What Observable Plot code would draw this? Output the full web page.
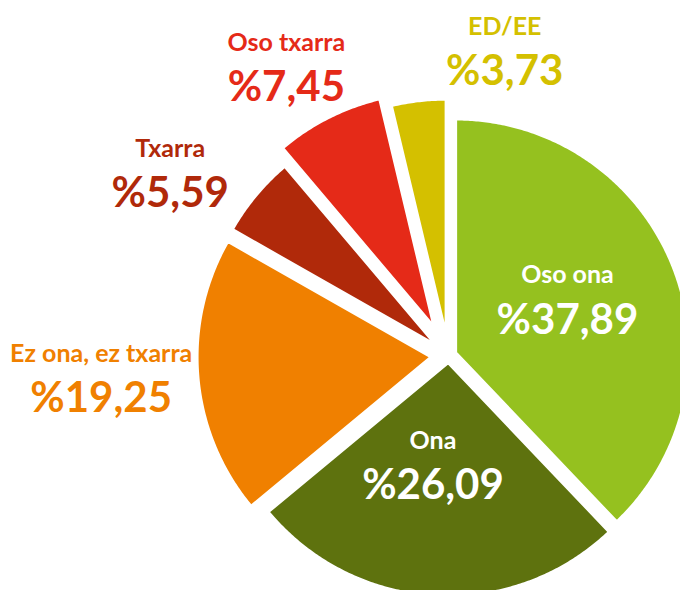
<!DOCTYPE html>
<html><head><meta charset="utf-8">
<script src="https://cdn.jsdelivr.net/npm/d3@7"></script>
<script src="https://cdn.jsdelivr.net/npm/@observablehq/plot@0.6"></script>
<style>html,body{margin:0;padding:0;background:#fff;overflow:hidden} #chart{width:680px;height:590px}</style>
</head><body><div id="chart"></div>
<script>
// ---- data ----
const categories = ["Oso ona", "Ona", "Ez ona, ez txarra", "Txarra", "Oso txarra", "ED/EE"];
const shares = [37.89, 26.09, 19.25, 5.59, 7.45, 3.73];
const valueLabels = ["%37,89", "%26,09", "%19,25", "%5,59", "%7,45", "%3,73"];
const sliceColors = ["#95c11f", "#5e720e", "#f08000", "#b0290a", "#e52a18", "#d4c000"];
const labelColors = ["#ffffff", "#ffffff", "#f08000", "#b0290a", "#e52a18", "#d4c000"];

// ---- layout ----
const W = 680, H = 590, CX = 448, CY = 355, R = 233.2;
const explode = [8, 7.5, 18, 17, 33, 23];
const labelAngle = [73.6, 186.8, 262.9, 300.2, 328.8, 11.2];
const labelDist = [124, 131, 350, 322, 313, 289.5];
const FONT = "Lato, 'Open Sans', sans-serif";

const total = d3.sum(shares);
const toRad = Math.PI / 180;
const pts = [];
let cum = 0;
shares.forEach((v, i) => {
  const a0 = cum / total * 2 * Math.PI;
  cum += v;
  const a1 = cum / total * 2 * Math.PI;
  const b = (a0 + a1) / 2;
  const ox = explode[i] * Math.sin(b), oy = explode[i] * Math.cos(b);
  pts.push({cat: categories[i], color: sliceColors[i], x: ox, y: oy});
  const n = Math.max(8, Math.ceil((a1 - a0) / (0.5 * toRad)));
  for (let k = 0; k <= n; k++) {
    const a = a0 + (a1 - a0) * k / n;
    pts.push({cat: categories[i], color: sliceColors[i], x: ox + R * Math.sin(a), y: oy + R * Math.cos(a)});
  }
});

const labels = categories.map((c, i) => ({
  name: c, value: valueLabels[i], color: labelColors[i],
  x: labelDist[i] * Math.sin(labelAngle[i] * toRad),
  y: labelDist[i] * Math.cos(labelAngle[i] * toRad)
}));

const chart = Plot.plot({
  width: W, height: H, margin: 0,
  style: {background: "white", overflow: "hidden"},
  x: {domain: [-CX, W - CX], axis: null},
  y: {domain: [-(H - CY), CY], axis: null},
  color: {type: "identity"},
  marks: [
    Plot.line(pts, {x: "x", y: "y", z: "cat", fill: "color", stroke: "white", strokeWidth: 2.4, strokeLinejoin: "round", curve: "linear-closed"}),
    Plot.text(labels, {x: "x", y: "y", text: "value", fill: "color", fontSize: 42, fontWeight: "bold", fontFamily: FONT, lineAnchor: "middle"}),
    Plot.text(labels, {x: "x", y: "y", text: "name", fill: "color", fontSize: 25, fontWeight: "bold", fontFamily: FONT, lineAnchor: "middle", dy: -45})
  ]
});
document.getElementById("chart").appendChild(chart);
</script>
</body></html>
